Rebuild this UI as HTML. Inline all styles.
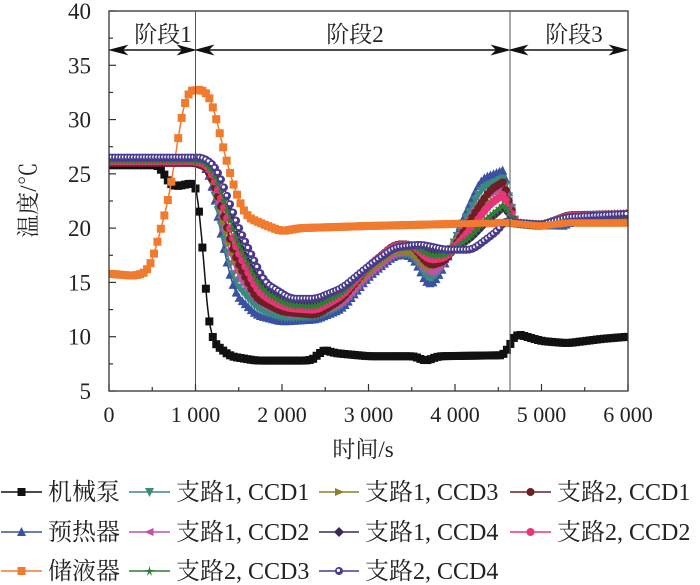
<!DOCTYPE html>
<html><head><meta charset="utf-8">
<style>
html,body{margin:0;padding:0;background:#fff;}
svg{display:block;}
text{font-family:"Liberation Serif","Noto Serif CJK SC","Noto Sans CJK SC",serif;fill:#222;}
</style></head>
<body>
<svg id="s" width="700" height="585" viewBox="0 0 700 585" xmlns="http://www.w3.org/2000/svg">
<defs>
<clipPath id="c"><rect x="109" y="11" width="519" height="380"/></clipPath>
</defs>
<g id="curves" clip-path="url(#c)"></g>
<rect x="109" y="11" width="519" height="380" fill="none" stroke="#333" stroke-width="1.3"/>
<line x1="195.5" y1="11" x2="195.5" y2="391" stroke="#555" stroke-width="1"/>
<line x1="510" y1="11" x2="510" y2="391" stroke="#555" stroke-width="1"/>
<g stroke="#111" stroke-width="1.5" fill="#111">
<line x1="112" y1="50" x2="193" y2="50"/>
<polygon points="111,50 126,46 122,50 126,54"/>
<polygon points="194,50 179,46 183,50 179,54"/>
<line x1="198" y1="50" x2="508" y2="50"/>
<polygon points="197,50 212,46 208,50 212,54"/>
<polygon points="508,50 493,46 497,50 493,54"/>
<line x1="512" y1="50" x2="626" y2="50"/>
<polygon points="511,50 526,46 522,50 526,54"/>
<polygon points="626,50 611,46 615,50 611,54"/>
</g>
<text x="163" y="42" font-size="23" text-anchor="middle">阶段1</text>
<text x="355" y="42" font-size="23" text-anchor="middle">阶段2</text>
<text x="574" y="42" font-size="23" text-anchor="middle">阶段3</text>
<g id="ticks"></g>
<text x="363" y="457" font-size="23" text-anchor="middle">时间/s</text>
<text transform="translate(36,200) rotate(-90)" font-size="23" text-anchor="middle">温度/℃</text>
<g id="legend"></g>
</svg>
<script>
var NS="http://www.w3.org/2000/svg";
function X(t){return 109+t*519/6000;}
function Y(v){return 391-(v-5)*380/35;}
function el(p,n,a){var e=document.createElementNS(NS,n);for(var k in a)e.setAttribute(k,a[k]);p.appendChild(e);return e;}
var tk=document.getElementById('ticks');
for(var v=5;v<=40;v+=5){
 el(tk,'line',{x1:109,y1:Y(v),x2:116,y2:Y(v),stroke:'#333','stroke-width':1.2});
 var t=el(tk,'text',{x:91,y:Y(v)+8,'font-size':23,'text-anchor':'end'});t.textContent=v;
 if(v<40) el(tk,'line',{x1:109,y1:Y(v+2.5),x2:113,y2:Y(v+2.5),stroke:'#333','stroke-width':1.2});
}
var lab=['0','1 000','2 000','3 000','4 000','5 000','6 000'];
for(var i=0;i<=6;i++){
 el(tk,'line',{x1:X(i*1000),y1:391,x2:X(i*1000),y2:384,stroke:'#333','stroke-width':1.2});
 if(i<6) el(tk,'line',{x1:X(i*1000+500),y1:391,x2:X(i*1000+500),y2:387,stroke:'#333','stroke-width':1.2});
 var t=el(tk,'text',{x:X(i*1000),y:422,'font-size':22,'text-anchor':'middle'});t.textContent=lab[i];
}
function interp(pts,t){for(var i=1;i<pts.length;i++){if(t<=pts[i][0]){var a=pts[i-1],b=pts[i];return a[1]+(b[1]-a[1])*(t-a[0])/(b[0]-a[0]);}}return pts[pts.length-1][1];}
function smooth(pts,t){var s=0,n=0;for(var d=-60;d<=60;d+=20){s+=interp(pts,Math.min(6000,Math.max(0,t+d)));n++;}return s/n;}
var pump=[[0,25.8],[600,25.8],[650,24.5],[750,23.8],[1000,24.2],[1050,23.3],[1100,15],[1150,11],[1200,9.5],[1400,8.2],[1700,7.8],[2300,7.8],[2400,8.0],[2450,8.9],[2600,8.5],[3000,8.2],[3550,8.2],[3650,7.7],[3800,8.2],[4610,8.3],[4620,9.2],[4700,10.3],[5000,9.6],[5300,9.4],[5700,9.8],[6000,10.0]];
var res=[[0,15.8],[300,15.6],[450,16.0],[520,17.5],[700,23],[830,30],[900,32.6],[1000,32.7],[1100,32.8],[1200,31.5],[1300,28],[1400,25],[1500,22.5],[1600,21],[1800,20.3],[2000,19.7],[2200,20.0],[3000,20.2],[4600,20.5],[5000,20.2],[5300,20.5],[6000,20.5]];
var blue=[[0,26.2],[1000,26.2],[1100,26],[1200,24],[1300,19],[1450,14],[1700,12],[2000,11.4],[2400,11.6],[2700,12.6],[3000,15.5],[3300,17.5],[3500,17.5],[3700,14.5],[3850,16],[4100,21],[4300,24.5],[4610,25.5],[4650,20.5],[5000,20.3],[5300,20.2],[5350,20.8],[6000,20.8]];
var brown=[[0,26],[1000,26],[1150,25.5],[1300,22],[1450,17.5],[1700,13.5],[2000,12.3],[2400,12],[2700,13.5],[3000,16.5],[3300,18.5],[3500,18.5],[3700,16.5],[3900,17],[4200,21],[4400,23.5],[4610,24.5],[4640,20.5],[5000,20.2],[5300,21.2],[6000,21.3]];
var purp=[[0,26.5],[1100,26.5],[1250,25.5],[1500,20],[1800,15],[2100,13.5],[2400,13.5],[2700,14.5],[3000,16.5],[3300,18.2],[3600,18.5],[3900,18],[4200,18],[4500,19.8],[4610,21],[4650,20.5],[5000,20.3],[5300,21],[6000,21.3]];
function blend(a,b,k){return function(t){return smooth(a,t)*(1-k)+smooth(b,t)*k;};}
var g=document.getElementById('curves');
function marker(p,type,x,y,c,s){
 s=s||4;
 switch(type){
 case 'sq':el(p,'rect',{x:x-s,y:y-s,width:2*s,height:2*s,fill:c});break;
 case 'tri':el(p,'polygon',{points:(x)+','+(y-s-1)+' '+(x-s-0.5)+','+(y+s)+' '+(x+s+0.5)+','+(y+s),fill:c});break;
 case 'tdn':el(p,'polygon',{points:(x)+','+(y+s+1)+' '+(x-s-0.5)+','+(y-s)+' '+(x+s+0.5)+','+(y-s),fill:c});break;
 case 'lt':el(p,'polygon',{points:(x-s-1)+','+y+' '+(x+s)+','+(y-s)+' '+(x+s)+','+(y+s),fill:c});break;
 case 'rt':el(p,'polygon',{points:(x+s+1)+','+y+' '+(x-s)+','+(y-s)+' '+(x-s)+','+(y+s),fill:c});break;
 case 'dia':el(p,'polygon',{points:x+','+(y-s-1)+' '+(x+s+1)+','+y+' '+x+','+(y+s+1)+' '+(x-s-1)+','+y,fill:c});break;
 case 'pent':el(p,'circle',{cx:x,cy:y,r:s,fill:c});break;
 case 'hex':el(p,'circle',{cx:x,cy:y,r:s,fill:c});break;
 case 'star':el(p,'polygon',{points:x+','+(y-s-1)+' '+(x+1)+','+(y-1)+' '+(x+s+1)+','+(y-1)+' '+(x+1.5)+','+(y+1)+' '+(x+2.5)+','+(y+s+1)+' '+x+','+(y+2)+' '+(x-2.5)+','+(y+s+1)+' '+(x-1.5)+','+(y+1)+' '+(x-s-1)+','+(y-1)+' '+(x-1)+','+(y-1),fill:c});break;
 case 'circ':el(p,'circle',{cx:x,cy:y,r:s,fill:c});el(p,'circle',{cx:x-0.6,cy:y-0.6,r:1.6,fill:'#fff'});break;
 }
}
function series(f,type,c,step,lw){
 var d='';
 for(var t=0;t<=6000;t+=10){d+=(t?'L':'M')+X(t).toFixed(1)+','+Y(f(t)).toFixed(1);}
 el(g,'path',{d:d,fill:'none',stroke:c,'stroke-width':lw||1.5});
 for(var t=0;t<=6000;t+=step){marker(g,type,X(t),Y(f(t)),c);}
}
var S=[
 [function(t){return smooth(pump,t);},'sq','#111',40],
 [function(t){return smooth(res,t);},'sq','#f07a2e',40],
 [blend(blue,brown,0),'tri','#3a50a2',35],
 [blend(blue,purp,0.15),'tdn','#3a8a80',35],
 [blend(blue,purp,0.3),'lt','#c050a8',35],
 [blend(blue,purp,0.45),'rt','#8a7f2a',35],
 [blend(brown,purp,0.6),'dia','#3b2a55',35],
 [blend(brown,brown,0),'pent','#6e1f22',35],
 [blend(brown,purp,0.3),'hex','#e8357a',35],
 [blend(brown,purp,0.55),'star','#2e7d32',35],
 [blend(purp,purp,0),'circ','#4a3a8c',35]
];
S.forEach(function(s){series(s[0],s[1],s[2],s[3]);});
(function(){var d='';for(var t=1600;t<=6000;t+=10){d+=(t>1600?'L':'M')+X(t).toFixed(1)+','+Y(smooth(res,t)).toFixed(1);}
el(g,'path',{d:d,fill:'none',stroke:'#f07a2e','stroke-width':7});})();
var L=document.getElementById('legend');
var items=[
 [0,0,'sq','#111','机械泵'],[1,0,'tdn','#3a8a80','支路1, CCD1'],[2,0,'rt','#8a7f2a','支路1, CCD3'],[3,0,'pent','#6e1f22','支路2, CCD1'],
 [0,1,'tri','#3a50a2','预热器'],[1,1,'lt','#c050a8','支路1, CCD2'],[2,1,'dia','#3b2a55','支路1, CCD4'],[3,1,'hex','#e8357a','支路2, CCD2'],
 [0,2,'sq','#f07a2e','储液器'],[1,2,'star','#2e7d32','支路2, CCD3'],[2,2,'circ','#4a3a8c','支路2, CCD4']
];
var cx=[[1,42,48],[129,170,176],[319,359,365],[510,551,557]], ry=[492,532,571];
items.forEach(function(it){
 var c=cx[it[0]],y=ry[it[1]];
 el(L,'line',{x1:c[0],y1:y,x2:c[1],y2:y,stroke:it[3],'stroke-width':1.6});
 marker(L,it[2],(c[0]+c[1])/2,y,it[3],4);
 var t=el(L,'text',{x:c[2],y:y+8,'font-size':24});t.textContent=it[4];
});
</script>
</body></html>
